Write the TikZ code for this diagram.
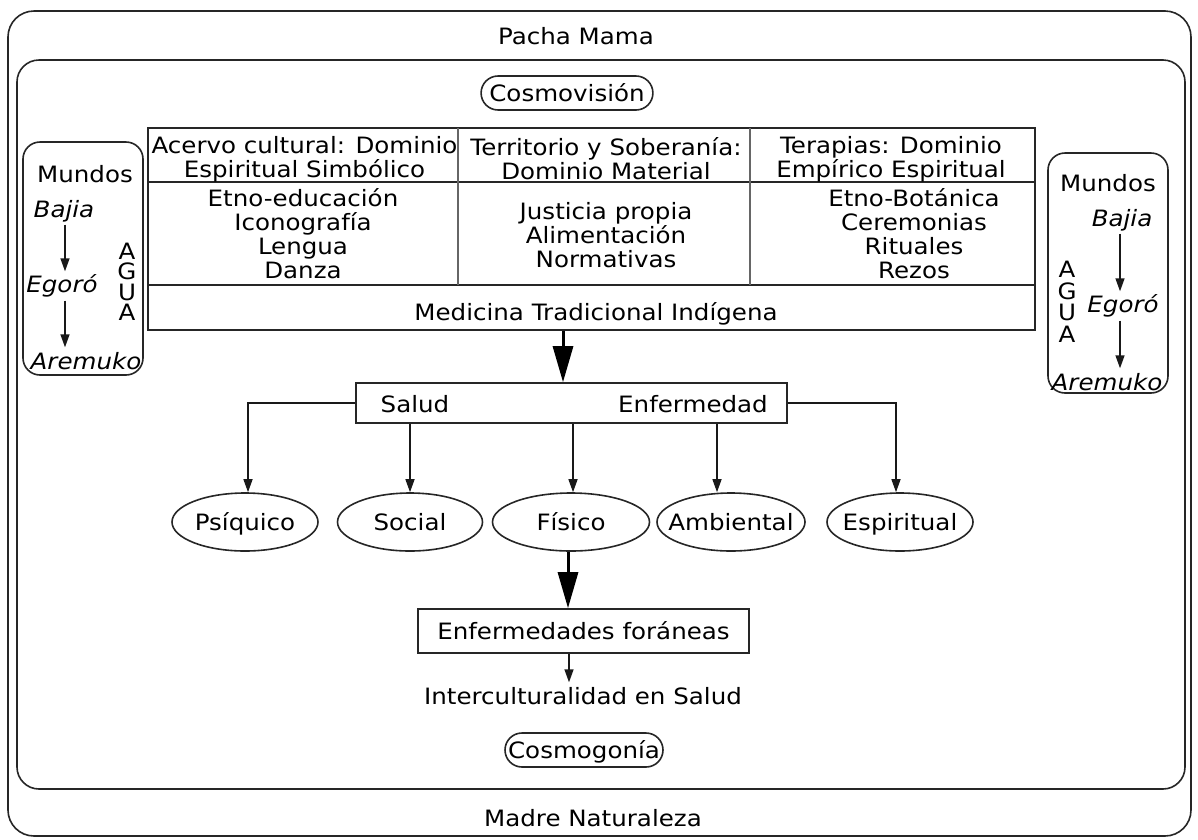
\documentclass[tikz,border=0pt]{standalone}
\usepackage{fontspec}
\setmainfont[FakeStretch=1.09]{DejaVu Sans}
\usetikzlibrary{arrows.meta,shapes.geometric,shapes.misc}
\begin{document}
\begin{tikzpicture}[x=1pt,y=-1pt,
  every node/.style={font=\fontsize{22.5}{24}\selectfont, inner sep=2pt},
  ln/.style={draw=black!85, line width=1.6pt},
  arr/.style={draw=black!90, line width=1.4pt, -{Triangle[length=13pt,width=9pt]}},
  bigarr/.style={draw=black, line width=3pt, -{Triangle[length=36pt,width=20pt]}},
  txt/.style={text height=17pt, text depth=0pt},
  it/.style={font=\fontsize{22.5}{24}\selectfont\itshape},
  pill/.style={rounded rectangle, ln, minimum height=34pt, inner xsep=6pt, inner ysep=0pt, txt},
  oval/.style={ellipse, ln, inner sep=0pt, minimum height=58pt, txt},
  box/.style={rectangle, ln},
  frame/.style={rectangle, ln, rounded corners=#1},
  frame/.default=22pt
]
\useasboundingbox (0,0) rectangle (1198,839);

% frames
\node[frame=26pt, minimum width=1183, minimum height=825] (outer) at (599.5,423.5) {};
\node[frame=22pt, minimum width=1168, minimum height=729] (inner) at (601,424.5) {};
\node[txt] (pacha) at (576,36) {Pacha Mama};
\node[txt] (madre) at (593,818) {Madre Naturaleza};
\node[pill, minimum width=170] (cosmov) at (567,93) {Cosmovisión};
\node[pill, minimum width=170] (cosmog) at (584,750) {Cosmogonía};

% table
\node[box, minimum width=887, minimum height=202] (tabla) at (591.5,229) {};
\draw[ln] (148,182) -- (1035,182);
\draw[ln] (148,285) -- (1035,285);
\draw[draw=black!60, line width=2pt] (458,128) -- (458,285);
\draw[draw=black!60, line width=2pt] (750,128) -- (750,285);
\node[align=center] (c1h) at (304.5,159) {Acervo cultural: Dominio\\Espiritual Simbólico};
\node[align=center] (c2h) at (606,159) {Territorio y Soberanía:\\Dominio Material};
\node[align=center] (c3h) at (891,159) {Terapias: Dominio\\Empírico Espiritual};
\node[align=center] (c1b) at (303,234) {Etno-educación\\Iconografía\\Lengua\\Danza};
\node[align=center] (c2b) at (606,235) {Justicia propia\\Alimentación\\Normativas};
\node[align=center] (c3b) at (914,234) {Etno-Botánica\\Ceremonias\\Rituales\\Rezos};
\node[txt] (mti) at (596,312) {Medicina Tradicional Indígena};

% salud / enfermedad
\node[box, minimum width=431, minimum height=40] (sebox) at (571.5,403) {};
\node[txt] (salud) at (415,404) {Salud};
\node[txt] (enfer) at (693,404) {Enfermedad};
\draw[bigarr] ([xshift=-8.5pt]sebox.north |- tabla.south) -- ([xshift=-8.5pt]sebox.north);

% ellipses
\node[oval, minimum width=146] (psi) at (245,522) {\makebox[0pt]{Psíquico}};
\node[oval, minimum width=145] (soc) at (410,522) {\makebox[0pt]{Social}};
\node[oval, minimum width=157] (fis) at (571,522) {\makebox[0pt]{Físico}};
\node[oval, minimum width=148] (amb) at (731,522) {\makebox[0pt]{Ambiental}};
\node[oval, minimum width=146] (esp) at (900,522) {\makebox[0pt]{Espiritual}};
\draw[arr] (sebox.west) -| ([xshift=3pt]psi.north);
\draw[arr] (sebox.east) -| ([xshift=-4pt]esp.north);
\draw[arr] (sebox.south -| soc.north) -- (soc.north);
\draw[arr] ([xshift=2pt]fis.north |- sebox.south) -- ([xshift=2pt]fis.north);
\draw[arr] ([xshift=-14pt]amb.north |- sebox.south) -- ([xshift=-14pt]amb.north);

% lower chain
\node[box, txt, minimum width=331, minimum height=44] (fora) at (583.5,631) {Enfermedades foráneas};
\draw[bigarr] ([xshift=-3pt]fis.south) -- ([xshift=-3pt]fis.south |- fora.north);
\node[txt] (inter) at (583,696) {Interculturalidad en Salud};
\draw[arr] ([xshift=-2pt]fis.south |- fora.south) -- ([xshift=-2pt,yshift=3pt]fis.south |- inter.north);

% left worlds
\node[frame=17pt, minimum width=120, minimum height=233] (wl) at (83,258.5) {};
\node[txt] (wlm) at (85,174) {Mundos};
\node[txt,it] (wlb) at (64,209) {Bajia};
\node[txt,it] (wle) at (62,284) {Egoró};
\node[txt,it] (wla) at (86,361) {Aremuko};
\draw[arr] ([xshift=1pt,yshift=-5pt]wlb.south) -- ([xshift=1pt,yshift=2pt]wlb.south |- wle.north);
\draw[arr] ([xshift=1pt,yshift=-6pt]wlb.south |- wle.south) -- ([xshift=1pt,yshift=3pt]wlb.south |- wla.north);
\node[align=center, font=\fontsize{22.5}{20.5}\selectfont] (wlagua) at (127,282) {A\\G\\U\\A};

% right worlds
\node[frame=17pt, minimum width=120, minimum height=240] (wr) at (1108,273) {};
\node[txt] (wrm) at (1108,183) {Mundos};
\node[txt,it] (wrb) at (1122,218) {Bajia};
\node[txt,it] (wre) at (1123,304) {Egoró};
\node[txt,it] (wra) at (1107,382) {Aremuko};
\draw[arr] ([xshift=-2pt,yshift=-5pt]wrb.south) -- ([xshift=-2pt,yshift=2pt]wrb.south |- wre.north);
\draw[arr] ([xshift=-2pt,yshift=-6pt]wrb.south |- wre.south) -- ([xshift=-2pt,yshift=3pt]wrb.south |- wra.north);
\node[align=center, font=\fontsize{22.5}{21.5}\selectfont] (wragua) at (1067,302) {A\\G\\U\\A};
\end{tikzpicture}
\end{document}
